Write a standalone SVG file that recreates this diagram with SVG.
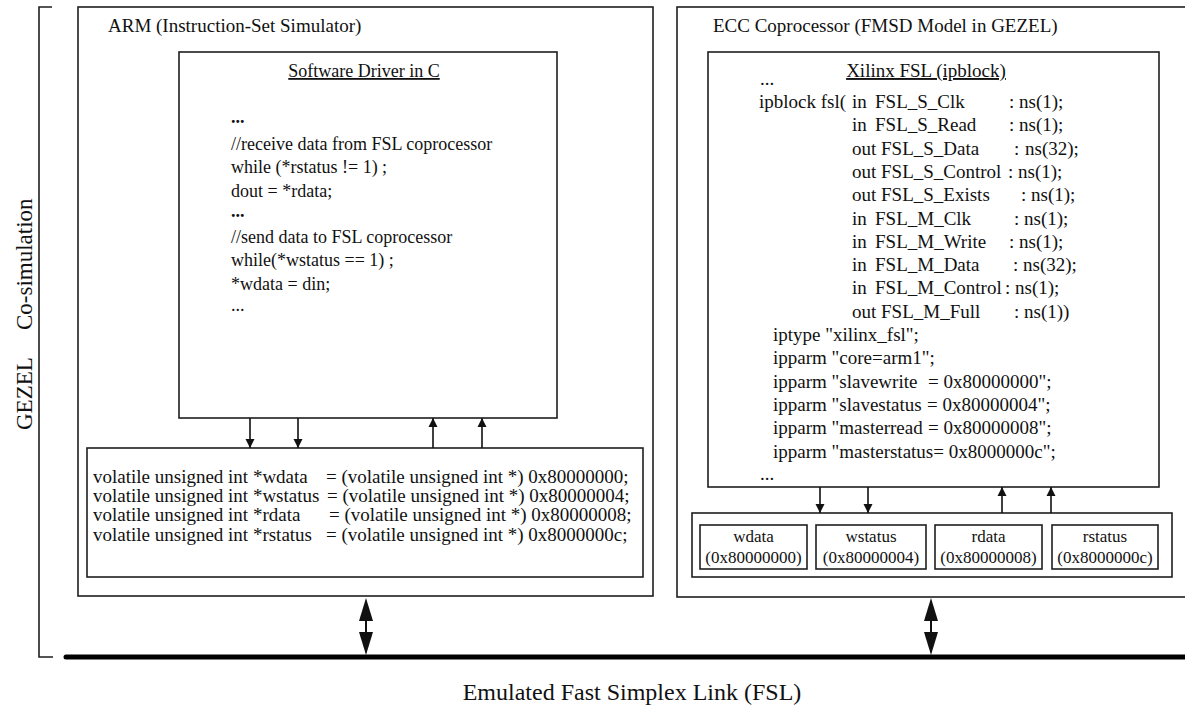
<svg xmlns="http://www.w3.org/2000/svg" width="1185" height="706" viewBox="0 0 1185 706">
  <style>
    .t { font-family: "Liberation Serif", "Times New Roman", serif; fill: #111; }
    .f19 { font-size: 19px; }
    .f18 { font-size: 18px; }
    .f17 { font-size: 17px; }
    .big { font-size: 23px; }
    .bus { font-size: 24px; }
    .u { text-decoration: underline; }
    .box { fill: none; stroke: #1e1e1e; stroke-width: 1.6; }
    .ln { fill: none; stroke: #1e1e1e; stroke-width: 1.6; }
    .arr { stroke: #111; stroke-width: 1.6; fill: none; }
    .head { fill: #111; stroke: none; }
  </style>
  <defs>
    <marker id="ah" viewBox="0 0 10 10" refX="10" refY="5" markerWidth="9" markerHeight="11" markerUnits="userSpaceOnUse" orient="auto">
      <path d="M0,0 L10,5 L0,10 z" class="head"/>
    </marker>
  </defs>

  <rect width="1185" height="706" fill="#ffffff"/>

  <!-- co-simulation bracket and side label -->
  <g id="cosim">
    <path class="ln" d="M52,7 H39 V657 H53"/>
    <text class="t big" transform="translate(32,330) rotate(-90)">Co-simulation</text>
    <text class="t big" transform="translate(32,430) rotate(-90)">GEZEL</text>
  </g>

  <!-- ARM instruction-set simulator -->
  <g id="arm">
    <rect class="box" x="78" y="7" width="575" height="589"/>
    <text class="t f19" x="108" y="32">ARM (Instruction-Set Simulator)</text>
  </g>

  <g id="driver">
    <rect class="box" x="179" y="52" width="378" height="366"/>
    <text class="t f18 u" x="364" y="77" text-anchor="middle">Software Driver in C</text>
    <g class="t f18">
      <text x="231" y="123" font-weight="bold">...</text>
      <text x="231" y="150">//receive data from FSL coprocessor</text>
      <text x="231" y="173">while (*rstatus != 1) ;</text>
      <text x="231" y="197">dout = *rdata;</text>
      <text x="231" y="217" font-weight="bold">...</text>
      <text x="231" y="243">//send data to FSL coprocessor</text>
      <text x="231" y="266">while(*wstatus == 1) ;</text>
      <text x="231" y="290">*wdata = din;</text>
      <text x="231" y="311">...</text>
    </g>
  </g>

  <g id="arm-regs">
    <rect class="box" x="87" y="448" width="556" height="129"/>
    <g class="t f19">
      <text x="93" y="483">volatile unsigned int *wdata</text>
      <text x="326" y="483">= (volatile unsigned int *) 0x80000000;</text>
      <text x="93" y="502">volatile unsigned int *wstatus</text>
      <text x="327" y="502">= (volatile unsigned int *) 0x80000004;</text>
      <text x="93" y="521">volatile unsigned int *rdata</text>
      <text x="329" y="521">= (volatile unsigned int *) 0x80000008;</text>
      <text x="93" y="541">volatile unsigned int *rstatus</text>
      <text x="326" y="541">= (volatile unsigned int *) 0x8000000c;</text>
    </g>
  </g>

  <!-- ECC coprocessor modelled in GEZEL -->
  <g id="ecc">
    <rect class="box" x="677" y="7" width="520" height="590"/>
    <text class="t f19" x="713" y="32">ECC Coprocessor (FMSD Model in GEZEL)</text>
  </g>

  <g id="ipblock">
    <rect class="box" x="708" y="52" width="451" height="435"/>
    <text class="t f19 u" x="926" y="77" text-anchor="middle">Xilinx FSL (ipblock)</text>
    <g class="t f19">
      <text x="760" y="85">...</text>
      <text x="759" y="108">ipblock fsl(</text>
      <text x="852" y="108">in</text><text x="875" y="108">FSL_S_Clk</text><text x="1009" y="108">: ns(1);</text>
      <text x="852" y="131.3">in</text><text x="875" y="131.3">FSL_S_Read</text><text x="1009" y="131.3">: ns(1);</text>
      <text x="852" y="154.6">out FSL_S_Data</text><text x="1014" y="154.6">:</text><text x="1025" y="154.6">ns(32);</text>
      <text x="852" y="177.9">out FSL_S_Control</text><text x="1008" y="177.9">: ns(1);</text>
      <text x="852" y="201.2">out FSL_S_Exists</text><text x="1021" y="201.2">: ns(1);</text>
      <text x="852" y="224.5">in</text><text x="875" y="224.5">FSL_M_Clk</text><text x="1014" y="224.5">: ns(1);</text>
      <text x="852" y="247.8">in</text><text x="875" y="247.8">FSL_M_Write</text><text x="1009" y="247.8">: ns(1);</text>
      <text x="852" y="271.1">in</text><text x="875" y="271.1">FSL_M_Data</text><text x="1013" y="271.1">: ns(32);</text>
      <text x="852" y="294.4">in</text><text x="875" y="294.4">FSL_M_Control</text><text x="1005" y="294.4">: ns(1);</text>
      <text x="852" y="317.7">out FSL_M_Full</text><text x="1014" y="317.7">: ns(1))</text>
      <text x="773" y="341">iptype "xilinx_fsl";</text>
      <text x="773" y="364.3">ipparm "core=arm1";</text>
      <text x="773" y="387.6">ipparm "slavewrite</text><text x="928" y="387.6">= 0x80000000";</text>
      <text x="773" y="410.9">ipparm "slavestatus</text><text x="927" y="410.9">= 0x80000004";</text>
      <text x="773" y="434.2">ipparm "masterread</text><text x="928" y="434.2">= 0x80000008";</text>
      <text x="773" y="457.5">ipparm "masterstatus= 0x8000000c";</text>
      <text x="760" y="480">...</text>
    </g>
  </g>

  <g id="ecc-regs">
    <rect class="box" x="692" y="513" width="480" height="64"/>
    <g id="reg-wdata">
      <rect class="box" x="700" y="525" width="107" height="44"/>
      <text class="t f17" x="753.5" y="542" text-anchor="middle">wdata</text>
      <text class="t f17" x="753.5" y="563" text-anchor="middle">(0x80000000)</text>
    </g>
    <g id="reg-wstatus">
      <rect class="box" x="816" y="525" width="110" height="44"/>
      <text class="t f17" x="871" y="542" text-anchor="middle">wstatus</text>
      <text class="t f17" x="871" y="563" text-anchor="middle">(0x80000004)</text>
    </g>
    <g id="reg-rdata">
      <rect class="box" x="935" y="525" width="107" height="44"/>
      <text class="t f17" x="988.5" y="542" text-anchor="middle">rdata</text>
      <text class="t f17" x="988.5" y="563" text-anchor="middle">(0x80000008)</text>
    </g>
    <g id="reg-rstatus">
      <rect class="box" x="1052" y="525" width="106" height="44"/>
      <text class="t f17" x="1105" y="542" text-anchor="middle">rstatus</text>
      <text class="t f17" x="1105" y="563" text-anchor="middle">(0x8000000c)</text>
    </g>
  </g>

  <!-- emulated FSL bus -->
  <g id="fsl-bus">
    <line x1="66" y1="657" x2="1190" y2="657" stroke="#000" stroke-width="5" stroke-linecap="round"/>
    <text class="t bus" x="632" y="700" text-anchor="middle">Emulated Fast Simplex Link (FSL)</text>
  </g>

  <g id="connectors">
    <!-- driver <-> memory-mapped registers -->
    <line class="arr" x1="250" y1="418" x2="250" y2="448" marker-end="url(#ah)"/>
    <line class="arr" x1="298" y1="418" x2="298" y2="448" marker-end="url(#ah)"/>
    <line class="arr" x1="433" y1="448" x2="433" y2="418" marker-end="url(#ah)"/>
    <line class="arr" x1="482" y1="448" x2="482" y2="418" marker-end="url(#ah)"/>
    <!-- ipblock <-> register map -->
    <line class="arr" x1="820" y1="487" x2="820" y2="513" marker-end="url(#ah)"/>
    <line class="arr" x1="868" y1="487" x2="868" y2="513" marker-end="url(#ah)"/>
    <line class="arr" x1="1002" y1="513" x2="1002" y2="487" marker-end="url(#ah)"/>
    <line class="arr" x1="1051" y1="513" x2="1051" y2="487" marker-end="url(#ah)"/>
    <!-- both sides attach to the bus -->
    <line x1="366" y1="615" x2="366" y2="638" stroke="#111" stroke-width="2"/>
    <polygon class="head" points="366,598 373,621 359,621"/>
    <polygon class="head" points="366,655 373,632 359,632"/>
    <line x1="931" y1="615" x2="931" y2="638" stroke="#111" stroke-width="2"/>
    <polygon class="head" points="931,598 938,621 924,621"/>
    <polygon class="head" points="931,655 938,632 924,632"/>
  </g>
</svg>
